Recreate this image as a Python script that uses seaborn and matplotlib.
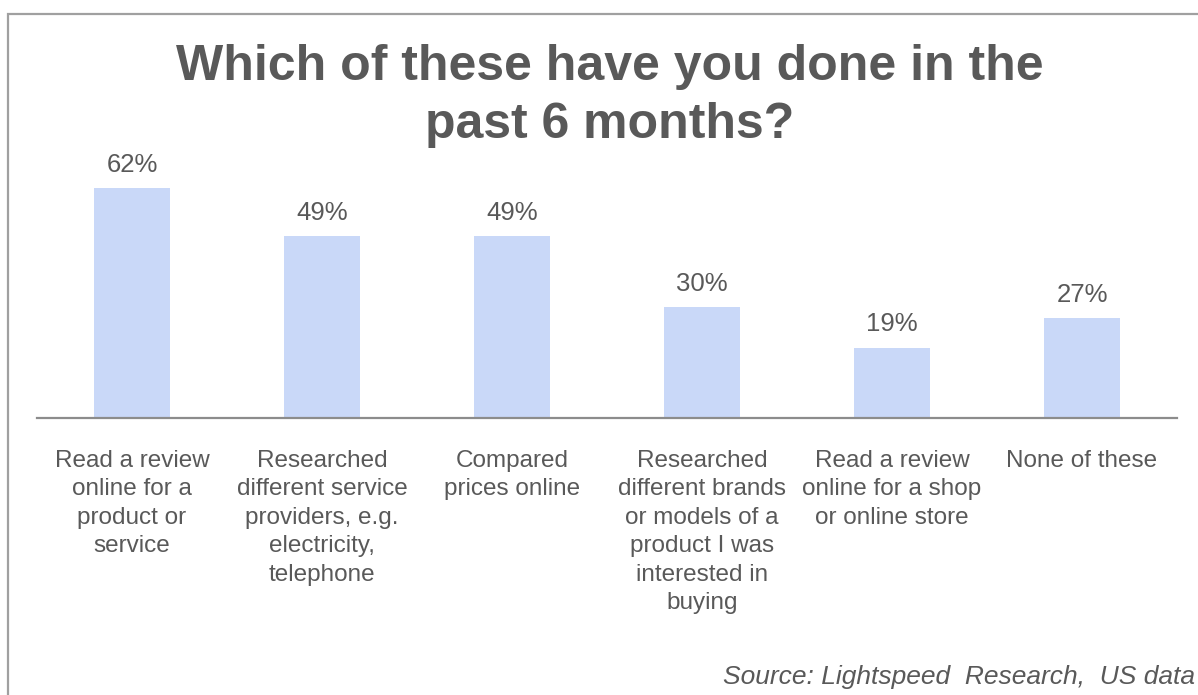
import matplotlib
matplotlib.use("Agg")
import matplotlib.pyplot as plt
import matplotlib.patches as mpatches
import seaborn as sns
import pandas as pd

# Survey responses
categories = [
    "Read a review\nonline for a\nproduct or\nservice",
    "Researched\ndifferent service\nproviders, e.g.\nelectricity,\ntelephone",
    "Compared\nprices online",
    "Researched\ndifferent brands\nor models of a\nproduct I was\ninterested in\nbuying",
    "Read a review\nonline for a shop\nor online store",
    "None of these",
]
values = [62, 49, 49, 30, 19, 27]
value_labels = ["62%", "49%", "49%", "30%", "19%", "27%"]

title = "Which of these have you done in the\npast 6 months?"
source = "Source: Lightspeed  Research,  US data"

TEXT = "#595959"
BAR = "#C9D8F8"
AXIS = "#8C8C8C"

sns.set_theme(style="white")
plt.rcParams["font.family"] = ["Liberation Sans", "DejaVu Sans"]

W, H = 1198, 695
fig = plt.figure(figsize=(W / 100, H / 100), dpi=100)

# axes placed in pixel terms: x from 37 to 1177, baseline at y=418
y0 = 418
ymax = 70
px_per = (418 - 188) / 62
top = y0 - ymax * px_per
ax = fig.add_axes([37 / W, 1 - y0 / H, (1177 - 37) / W, (y0 - top) / H])

df = pd.DataFrame({"cat": categories, "val": values})
sns.barplot(data=df, x="cat", y="val", color=BAR, width=0.4, ax=ax,
            saturation=1, edgecolor="none")

ax.set_xlim(-0.5, len(categories) - 0.5)
ax.set_ylim(0, ymax)
ax.set_xlabel("")
ax.set_ylabel("")
ax.set_yticks([])
for s in ["top", "right", "left"]:
    ax.spines[s].set_visible(False)
ax.spines["bottom"].set_color(AXIS)
ax.spines["bottom"].set_linewidth(1.6)

ax.set_xticks(range(len(categories)))
ax.set_xticklabels(categories, fontsize=17.5, color=TEXT)
for t in ax.get_xticklabels():
    t.set_linespacing(1.38)
ax.tick_params(axis="x", length=0, pad=23)

for i, (v, lab) in enumerate(zip(values, value_labels)):
    ax.annotate(lab, (i, v), xytext=(0, 8), textcoords="offset points",
                ha="center", va="bottom", fontsize=18.5, color=TEXT)

fig.text(610 / W, 1 - 44 / H, title, ha="center", va="top", fontsize=36,
         fontweight="bold", color=TEXT, linespacing=1.34)

fig.text(723 / W, 1 - 677 / H, source, ha="left", va="center", fontsize=19,
         style="italic", color=TEXT)

# outer frame
frame = mpatches.Rectangle((8 / W, -0.1), 1.2, 1.1 - 14 / H, transform=fig.transFigure,
                           fill=False, edgecolor="#A0A0A0", linewidth=1.6, clip_on=False)
fig.add_artist(frame)

fig.savefig("out.png", dpi=100, facecolor="white")
